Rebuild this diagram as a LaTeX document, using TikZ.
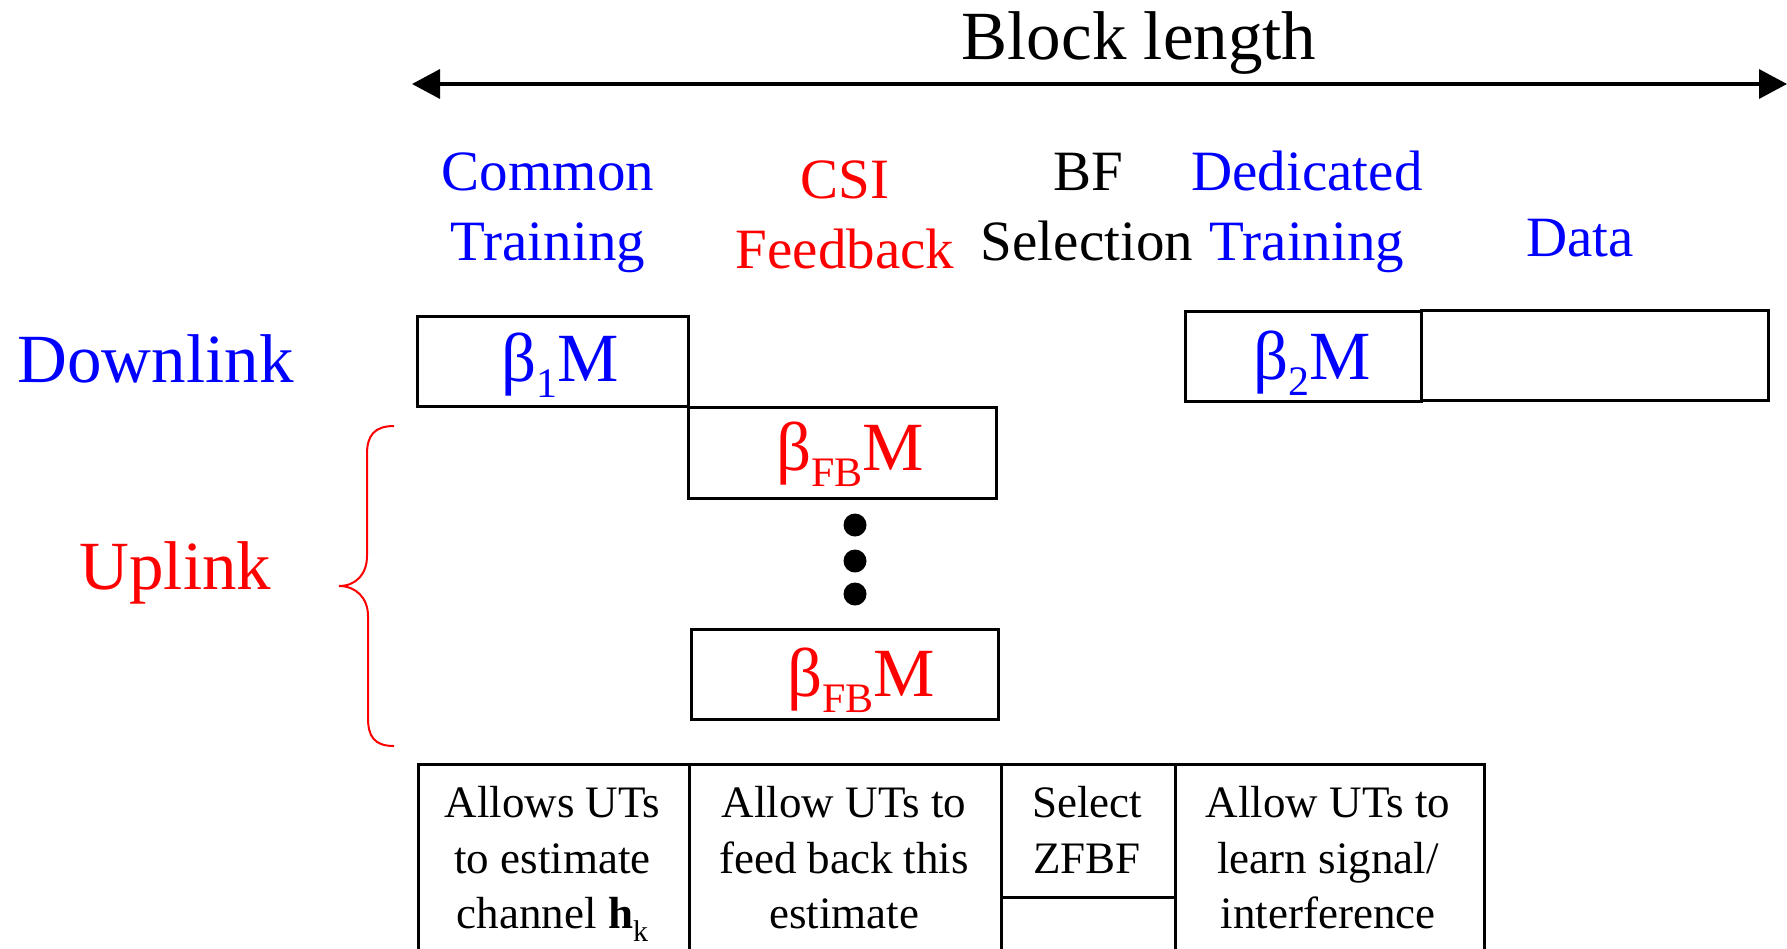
\documentclass[tikz,border=0pt]{standalone}
\usepackage{fontspec}
\setmainfont{Liberation Serif}
\usetikzlibrary{arrows.meta}
\definecolor{tblue}{RGB}{0,0,255}
\definecolor{tred}{RGB}{255,0,0}
\newcommand\bsub[1]{\raisebox{-16pt}{\fontsize{42}{42}\selectfont #1}}
\newcommand\ssub[1]{\raisebox{-13pt}{\fontsize{30}{30}\selectfont #1}}
\tikzset{
  big/.style={font=\fontsize{69}{80}\selectfont, anchor=base, inner sep=0pt},
  lab/.style={font=\fontsize{57}{68}\selectfont, anchor=base, inner sep=0pt},
  small/.style={font=\fontsize{45}{54}\selectfont, anchor=base, inner sep=0pt},
  slot/.style={draw, line width=3pt, rectangle, inner sep=0pt},
  cell/.style={draw, line width=3pt, rectangle, inner sep=0pt, anchor=north west},
  dot/.style={circle, fill=black, inner sep=0pt, minimum size=23pt},
  brace/.style={draw=tred, line width=2pt},
  span/.style={line width=3.5pt, {Triangle[length=28pt,width=29pt]}-{Triangle[length=28pt,width=29pt]}}
}
\begin{document}
\begin{tikzpicture}[x=1pt,y=-1pt]
\useasboundingbox (0,0) rectangle (1787,948);
\clip (0,0) rectangle (1787,948);
% block length arrow
\node[big] (bl) at (1139,59) {Block length};
\coordinate (aL) at (412,84);
\coordinate (aR) at (1787,84);
\draw[span] (aL) -- (aR);
% headings
\node[lab, tblue] (ct1) at (548,190) {Common};
\node[lab, tblue] (ct2) at (548,260) {Training};
\node[lab, tred] (cf1) at (845,198) {CSI};
\node[lab, tred] (cf2) at (845,268) {Feedback};
\node[lab] (bf1) at (1088,190) {BF};
\node[lab] (bf2) at (1087,260) {Selection};
\node[lab, tblue] (dt1) at (1307,190) {Dedicated};
\node[lab, tblue] (dt2) at (1307,260) {Training};
\node[lab, tblue] (dat) at (1580,256) {Data};
% side labels
\node[big, tblue] (dl) at (155.5,382) {Downlink};
\node[big, tred] (ul) at (175.5,589) {Uplink};
% slots
\node[slot, minimum width=271pt, minimum height=90pt] (b1) at (552.5,361) {};
\node[slot, minimum width=308pt, minimum height=91pt] (fb1) at (842,452.5) {};
\node[slot, minimum width=307pt, minimum height=90pt] (fb2) at (844.5,674) {};
\node[slot, minimum width=236pt, minimum height=90pt] (b2) at (1303,356) {};
\node[slot, minimum width=347pt, minimum height=90pt] (db) at (1594.5,355) {};
\node[big, tblue] (t1) at (560,381) {β\bsub{1}M};
\node[big, tred] (tfb1) at (850,470) {β\bsub{FB}M};
\node[big, tred] (tfb2) at (861,696) {β\bsub{FB}M};
\node[big, tblue] (t2) at (1312,379) {β\bsub{2}M};
% dots
\node[dot] (d1) at (855,525) {};
\node[dot] (d2) at (855,561) {};
\node[dot] (d3) at (855,594) {};
% brace
\draw[brace] (394,426) .. controls (374,426) and (367,436) .. (367,454)
  -- (367,556) .. controls (367,574) and (356,586) .. (339,586)
  .. controls (356,586) and (368,598) .. (368,616)
  -- (368,718) .. controls (368,736) and (374,746) .. (394,746);
% bottom table
\node[cell, minimum width=271pt, minimum height=230pt] (c1) at (417,763) {};
\node[cell, minimum width=312pt, minimum height=230pt] (c2) at (688,763) {};
\node[cell, minimum width=174pt, minimum height=133pt] (c3) at (1000,763) {};
\node[cell, minimum width=174pt, minimum height=100pt] (c3b) at (1000,896) {};
\node[cell, minimum width=309pt, minimum height=230pt] (c4) at (1174,763) {};
\node[small] (c1a) at (552.5,817) {Allows UTs};
\node[small] (c1b) at (552.5,873) {to estimate};
\node[small] (c1c) at (552.5,928) {channel \textbf{h}\ssub{k}};
\node[small] (c2a) at (844,817) {Allow UTs to};
\node[small] (c2b) at (844,873) {feed back this};
\node[small] (c2c) at (844,928) {estimate};
\node[small] (c3a) at (1087,817) {Select};
\node[small] (c3c) at (1087,873) {ZFBF};
\node[small] (c4a) at (1328,817) {Allow UTs to};
\node[small] (c4b) at (1328,873) {learn signal/};
\node[small] (c4c) at (1328,928) {interference};
\end{tikzpicture}
\end{document}
